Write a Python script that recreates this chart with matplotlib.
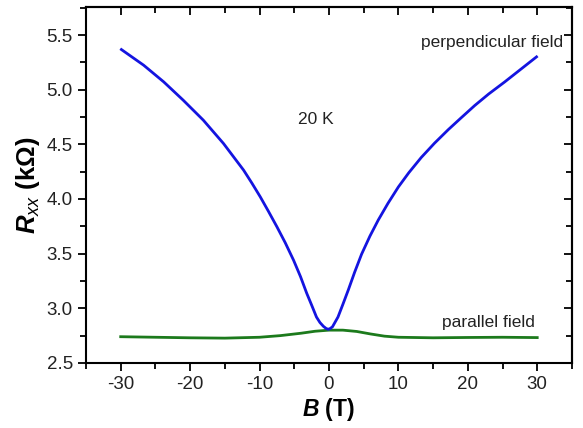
import numpy as np
import matplotlib
matplotlib.use("Agg")
import matplotlib.pyplot as plt
from matplotlib.ticker import MultipleLocator

plt.rcParams['font.family'] = ['Liberation Sans', 'DejaVu Sans']
plt.rcParams['mathtext.fontset'] = 'custom'
plt.rcParams['mathtext.rm'] = 'Liberation Sans:bold'
plt.rcParams['mathtext.it'] = 'Liberation Sans:italic'
plt.rcParams['mathtext.bf'] = 'Liberation Sans:bold'
plt.rcParams['mathtext.bfit'] = 'Liberation Sans:bold:italic'
plt.rcParams['axes.unicode_minus'] = False

# perpendicular field curve
b_perp = [-29.9, -26.7, -23.8, -21.0, -18.1, -15.2, -12.3, -11.1, -9.9, -8.7, -7.5,
          -6.3, -5.1, -4.1, -3.2, -2.5, -1.8, -1.3, -0.8, -0.4, -0.1,
          0.1, 0.5, 1.3, 2.0, 2.8, 3.7, 4.7, 5.9, 7.1, 8.5, 10.0, 11.5, 13.3, 15.2,
          17.2, 19.0, 21.0, 23.0, 25.3, 27.5, 29.9]
r_perp = [5.367, 5.224, 5.071, 4.904, 4.721, 4.508, 4.264, 4.145, 4.02, 3.885, 3.746,
          3.60, 3.44, 3.29, 3.137, 3.03, 2.92, 2.87, 2.835, 2.815, 2.808,
          2.812, 2.83, 2.92, 3.035, 3.17, 3.33, 3.495, 3.66, 3.807, 3.96, 4.11, 4.24,
          4.38, 4.51, 4.635, 4.74, 4.855, 4.96, 5.07, 5.18, 5.30]

# parallel field curve
b_par = [-30, -25, -20, -15, -10, -7, -4, -2, 0, 2, 4, 6, 8, 10, 15, 20, 25, 30]
r_par = [2.74, 2.735, 2.73, 2.727, 2.735, 2.75, 2.772, 2.79, 2.80, 2.80, 2.788,
         2.765, 2.745, 2.735, 2.73, 2.733, 2.735, 2.732]

fig = plt.figure(figsize=(5.83, 4.28), dpi=100)
ax = fig.add_axes([0.1475, 0.152, 0.8335, 0.8316])

ax.plot(b_par, r_par, color='#1c7a1c', lw=2.0, solid_joinstyle='round')
ax.plot(b_perp, r_perp, color='#1414e0', lw=2.0, solid_joinstyle='round')

ax.set_xlim(-35, 35)
ax.set_ylim(2.5, 5.756)
ax.xaxis.set_major_locator(MultipleLocator(10))
ax.xaxis.set_minor_locator(MultipleLocator(5))
ax.yaxis.set_major_locator(MultipleLocator(0.5))
ax.yaxis.set_minor_locator(MultipleLocator(0.25))
ax.tick_params(which='both', direction='out', width=1.3, labelsize=13.5,
               labelcolor='#222222')
ax.tick_params(which='major', length=6)
ax.tick_params(which='minor', length=4)

# mirrored ticks pointing in
top = ax.secondary_xaxis('top')
top.xaxis.set_major_locator(MultipleLocator(10))
top.xaxis.set_minor_locator(MultipleLocator(5))
top.tick_params(which='both', direction='in', width=1.3, labeltop=False)
top.tick_params(which='major', length=6)
top.tick_params(which='minor', length=4)
right = ax.secondary_yaxis('right')
right.yaxis.set_major_locator(MultipleLocator(0.5))
right.yaxis.set_minor_locator(MultipleLocator(0.25))
right.tick_params(which='both', direction='in', width=1.3, labelright=False)
right.tick_params(which='major', length=6)
right.tick_params(which='minor', length=4)

for s in ax.spines.values():
    s.set_linewidth(1.5)
top.spines['top'].set_linewidth(1.5)
right.spines['right'].set_linewidth(1.5)

ax.set_xlabel(r'$\mathbfit{B}$ (T)', fontsize=16.5, fontweight='bold', labelpad=2)
ax.set_ylabel(r'$\mathbfit{R}_{\mathit{xx}}$ (k$\Omega$)', fontsize=18.5, fontweight='bold', labelpad=3)

fig.text(0.511, 0.72, '20 K', fontsize=12.5, va='center', color='#222222')
ax.text(0.981, 0.899, 'perpendicular field', transform=ax.transAxes, ha='right', va='center',
        fontsize=12.5, color='#222222')
ax.text(0.924, 0.115, 'parallel field', transform=ax.transAxes, ha='right', va='center',
        fontsize=12.5, color='#222222')

fig.savefig('out.png', dpi=100)
